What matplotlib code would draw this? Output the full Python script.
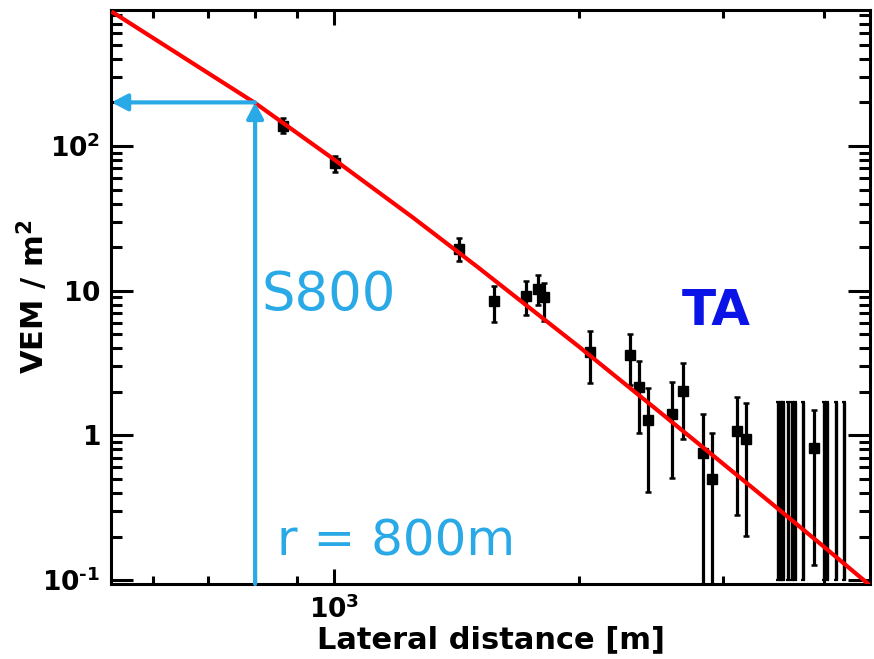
import numpy as np
import matplotlib
matplotlib.use("Agg")
import matplotlib.pyplot as plt
from matplotlib.ticker import LogLocator, NullFormatter, FixedLocator, FixedFormatter

plt.rcParams['font.family'] = ['DejaVu Sans']
plt.rcParams['font.weight'] = 'bold'
plt.rcParams['mathtext.fontset'] = 'dejavusans'

# ---------------- data ----------------
# measured densities (lateral distance [m], VEM/m^2) with asymmetric error bars
det_r = [865, 1003, 1424, 1572, 1719, 1779, 1811, 2063, 2309, 2371, 2432,
         2598, 2681, 2841, 2915, 3123, 3204, 3890]
det_s = [137, 75.9, 19.4, 8.49, 9.24, 10.27, 9.04, 3.79, 3.59, 2.17, 1.28,
         1.41, 2.03, 0.752, 0.497, 1.07, 0.94, 0.814]
det_hi = [156, 85.3, 23.2, 10.8, 11.7, 12.8, 11.3, 5.29, 5.02, 3.28, 2.14,
          2.34, 3.16, 1.41, 1.04, 1.85, 1.68, 1.50]
det_lo = [123, 66.4, 16.0, 6.11, 6.79, 7.96, 6.18, 2.31, 2.23, 1.04, 0.408,
          0.51, 0.94, 0.05, 0.05, 0.282, 0.202, 0.127]

# detectors without signal: vertical bars up to an upper value
ul_r = [3505, 3534, 3563, 3613, 3648, 3682, 3767, 3998, 4032, 4129, 4223]
ul_top = [1.69, 1.69, 1.69, 1.69, 1.69, 1.69, 1.69, 1.69, 1.69, 1.69, 1.69]
ul_bottom = [0.1, 0.1, 0.1, 0.1, 0.1, 0.1, 0.1, 0.1, 0.1, 0.1, 0.1]

# fitted lateral distribution function
fit_r = [533, 800, 1000, 1250, 1500, 2000, 2500, 3000, 3500, 4000, 4551]
fit_s = [850, 198, 80.7, 32.0, 14.6, 4.09, 1.48, 0.641, 0.315, 0.169, 0.092]

r_ref = 800
s800 = 200

x_lim = (533, 4551)
y_lim = (0.094, 870)
y_ticks = [0.1, 1, 10, 100]
y_tick_labels = ['$\\mathbf{10^{\u2010 1}}$', r'$\mathbf{1}$', r'$\mathbf{10}$', r'$\mathbf{10^{2}}$']
x_ticks = [1000]
x_tick_labels = [r'$\mathbf{10^{3}}$']

cyan = '#29A9E6'
blue = '#0A14E6'

# ---------------- figure ----------------
fig = plt.figure(figsize=(8.74, 6.59), dpi=100)
ax = fig.add_axes([0.12757, 0.11381, 0.86785, 0.87102])
ax.set_xscale('log')
ax.set_yscale('log')
ax.set_xlim(*x_lim)
ax.set_ylim(*y_lim)

# data
det_s_a = np.array(det_s)
yerr = [det_s_a - np.array(det_lo), np.array(det_hi) - det_s_a]
ax.errorbar(det_r, det_s, yerr=yerr, fmt='s', color='black', ms=7.5,
            elinewidth=2.3, capsize=2.0, capthick=1.8, zorder=3)

ul_top_a = np.array(ul_top)
ax.errorbar(ul_r, ul_top, yerr=[ul_top_a - np.array(ul_bottom), np.zeros(len(ul_top))],
            fmt='none', ecolor='black', elinewidth=2.4, capsize=1.5, capthick=1.6,
            zorder=3)

ax.plot(fit_r, fit_s, color='#FF0000', lw=3.0, zorder=4, solid_capstyle='butt')

# S800 arrows
ax.annotate('', xy=(r_ref, s800), xytext=(r_ref, y_lim[0]),
            arrowprops=dict(arrowstyle='-|>,head_length=0.95,head_width=0.5',
                            color=cyan, lw=3.0, shrinkA=0, shrinkB=0),
            zorder=5)
ax.annotate('', xy=(x_lim[0], s800), xytext=(r_ref, s800),
            arrowprops=dict(arrowstyle='-|>,head_length=0.95,head_width=0.5',
                            color=cyan, lw=3.0, shrinkA=0, shrinkB=0),
            zorder=5)

ax.text(0.198, 0.477, 'S800', transform=ax.transAxes, color=cyan,
        fontsize=38, fontweight='normal', ha='left', va='baseline')
ax.text(0.218, 0.049, 'r = 800m', transform=ax.transAxes, color=cyan,
        fontsize=36, fontweight='normal', ha='left', va='baseline')
ax.text(0.752, 0.451, 'TA', transform=ax.transAxes, color=blue,
        fontsize=36, fontweight='bold', ha='left', va='baseline')

# ticks
ax.xaxis.set_major_locator(FixedLocator(x_ticks))
ax.xaxis.set_major_formatter(FixedFormatter(x_tick_labels))
ax.xaxis.set_minor_locator(LogLocator(base=10, subs=np.arange(2, 10), numticks=50))
ax.xaxis.set_minor_formatter(NullFormatter())
ax.yaxis.set_major_locator(FixedLocator(y_ticks))
ax.yaxis.set_major_formatter(FixedFormatter(y_tick_labels))
ax.yaxis.set_minor_locator(LogLocator(base=10, subs=np.arange(2, 10), numticks=50))
ax.yaxis.set_minor_formatter(NullFormatter())

ax.tick_params(axis='both', which='both', direction='in', top=True, right=True,
               colors='black', width=2.2)
ax.tick_params(axis='x', which='major', length=10.8, pad=8, labelsize=19)
ax.tick_params(axis='x', which='minor', length=5.8)
ax.tick_params(axis='y', which='major', length=15.8, pad=8, labelsize=19)
ax.tick_params(axis='y', which='minor', length=8)

for sp in ax.spines.values():
    sp.set_linewidth(2.2)

ax.set_xlabel('Lateral distance [m]', fontsize=22, fontweight='bold', labelpad=1)
ax.set_ylabel(r'VEM / m$^{\mathbf{2}}$', fontsize=22, fontweight='bold')
ax.yaxis.set_label_coords(-0.080, 0.5)
ax.yaxis.label.set_verticalalignment('bottom')

fig.savefig('out.png', dpi=100)
